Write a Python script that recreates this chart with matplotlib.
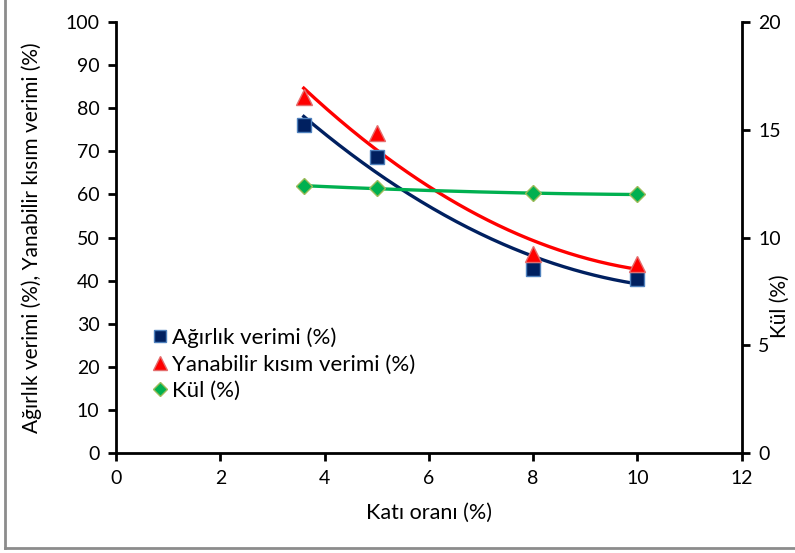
import numpy as np
import matplotlib.pyplot as plt
from matplotlib.lines import Line2D

# Data
kati_orani = [3.6, 5, 8, 10]
agirlik_verimi = [76.2, 68.6, 42.8, 40.4]
yanabilir_verimi = [82.6, 74.2, 46.2, 43.9]
kul = [12.4, 12.28, 12.05, 12.0]

plt.rcParams['font.family'] = ['Lato', 'DejaVu Sans']

fig = plt.figure(figsize=(7.95, 5.53), dpi=100)
ax = fig.add_axes([0.146, 0.181, 0.787, 0.779])
ax2 = ax.twinx()

# 2nd order polynomial trend lines (like Excel)
xs = np.linspace(min(kati_orani), max(kati_orani), 200)
def trend(y):
    return np.polyval(np.polyfit(kati_orani, y, 2), xs)

ax.plot(xs, trend(agirlik_verimi), color='#002060', lw=2.4, zorder=2)
ax.plot(xs, trend(yanabilir_verimi), color='#FF0000', lw=2.4, zorder=2)
ax2.plot(xs, trend(kul), color='#00B050', lw=2.4, zorder=2)

ax.plot(kati_orani, agirlik_verimi, 's', ms=10, mfc='#002060', mec='#4F81BD',
        mew=1, ls='none', zorder=3)
ax.plot(kati_orani, yanabilir_verimi, '^', ms=11, mfc='#FF0000', mec='#E46C6C',
        mew=1, ls='none', zorder=3)
ax2.plot(kati_orani, kul, 'D', ms=8, mfc='#00B050', mec='#9BBB59',
         mew=1, ls='none', zorder=3)

ax.set_xlim(0, 12)
ax.set_ylim(0, 100)
ax2.set_ylim(0, 20)
ax.set_xticks(range(0, 13, 2))
ax.set_yticks(range(0, 101, 10))
ax2.set_yticks(range(0, 21, 5))

for a in (ax, ax2):
    a.spines['top'].set_visible(False)
    for s in a.spines.values():
        s.set_linewidth(2)
    a.tick_params(width=2, length=6, labelsize=14, pad=6)
ax.spines['right'].set_visible(False)
ax2.spines['left'].set_visible(False)
ax2.spines['bottom'].set_visible(False)

ax.set_xlabel('Katı oranı (%)', fontsize=15.5, labelpad=12)
ax.set_ylabel('Ağırlık verimi (%), Yanabilir kısım verimi (%)', fontsize=15)
ax.yaxis.set_label_coords(-0.118, 0.5)
ax2.set_ylabel('Kül (%)', fontsize=15)
ax2.yaxis.set_label_coords(1.045, 0.34)

handles = [
    Line2D([], [], marker='s', ls='none', ms=9, mfc='#002060', mec='#4F81BD'),
    Line2D([], [], marker='^', ls='none', ms=10, mfc='#FF0000', mec='#E46C6C'),
    Line2D([], [], marker='D', ls='none', ms=7, mfc='#00B050', mec='#9BBB59'),
]
ax.legend(handles, ['Ağırlık verimi (%)', 'Yanabilir kısım verimi (%)', 'Kül (%)'],
          loc='center left', bbox_to_anchor=(0.04, 0.206), frameon=False,
          fontsize=16, handlelength=0.7, handletextpad=0.2, labelspacing=0.3,
          borderpad=0)

# outer chart border
fig.add_artist(Line2D([0.006, 0.006], [0.009, 1.0], color='#8C8C8C', lw=2))
fig.add_artist(Line2D([0.006, 1.0], [0.009, 0.009], color='#8C8C8C', lw=2))

fig.savefig('out.png', dpi=100)
